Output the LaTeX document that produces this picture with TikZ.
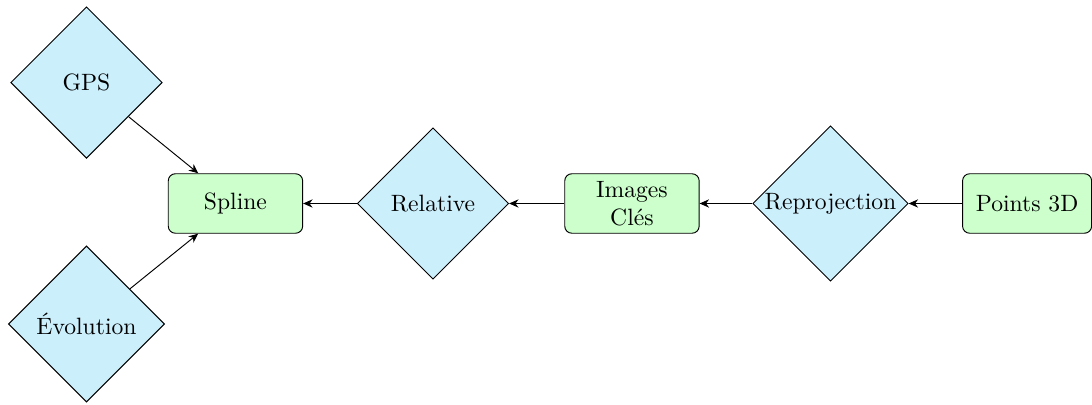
\documentclass[tikz,border=0pt]{standalone}
\usepackage{tikz}
\usetikzlibrary{arrows.meta, shapes.geometric}

\begin{document}
\begin{tikzpicture}[
    every node/.style = {align=center},
    stepbox/.style = {draw, rounded corners=3pt, fill=green!20,
                      minimum width=2cm, minimum height=0.885cm, inner sep=0pt},
    testbox/.style = {draw, diamond, aspect=1, fill=cyan!20,
                      text width=2cm, inner sep=0pt},
    arr/.style     = {-{Stealth[length=4pt,width=3.5pt]}},
]
\useasboundingbox (-3.504cm, -2.998cm) rectangle (12.746cm, 3.028cm);

%% Sources
\node[testbox] (gps) at (-2.217cm,  1.80cm)  {GPS};
\node[testbox] (evo) at (-2.217cm, -1.793cm) {Évolution};

%% Chain
\node[stepbox] (spline) at (0cm,     0cm) {Spline};
\node[testbox] (rel)    at (2.939cm, 0cm) {Relative};
\node[stepbox] (key)    at (5.900cm, 0cm) {Images\\Clés};
\node[testbox] (repro)  at (8.854cm, 0cm) {Reprojection};
\node[stepbox, minimum width=1.92cm] (pts) at (11.78cm, 0cm) {Points 3D};

%% Flow
\draw[arr] (gps) -- (spline);
\draw[arr] (evo) -- (spline);
\draw[arr] (rel) -- (spline);
\draw[arr] (key) -- (rel);
\draw[arr] (repro) -- (key);
\draw[arr] (pts) -- (repro);

\end{tikzpicture}
\end{document}
